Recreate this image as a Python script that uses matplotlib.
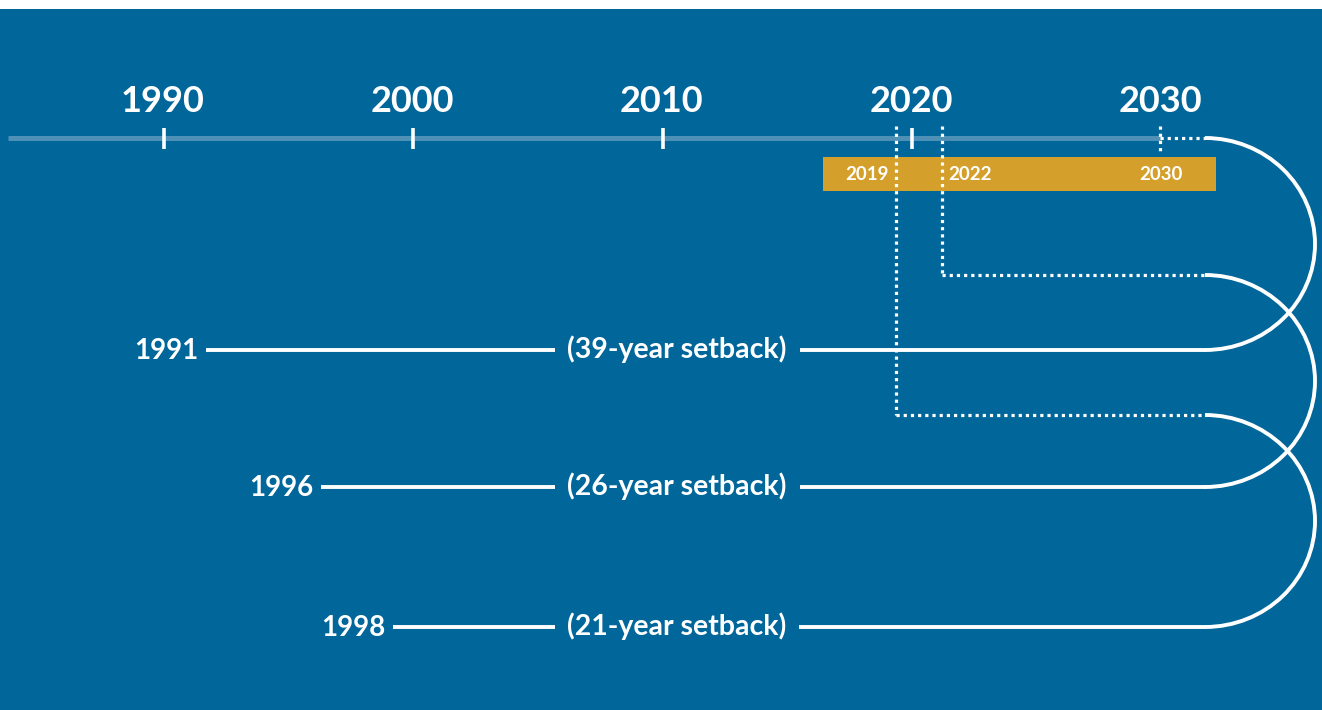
import numpy as np
import matplotlib
matplotlib.use("Agg")
import matplotlib.pyplot as plt
from matplotlib.patches import Rectangle, Arc

plt.rcParams['font.family'] = ['Lato', 'DejaVu Sans']

# ---- data ----
axis_years = [1990, 2000, 2010, 2020]
axis_end_year = 2030
start_years = [1991, 1996, 1998]
setbacks = [39, 26, 21]
target_years = [s + d for s, d in zip(start_years, setbacks)]   # 2030, 2022, 2019
band_labels = ["2019", "2022", "2030"]

# ---- layout / style ----
BG = "#01669A"
GOLD = "#D4A02B"
AXIS_C = "#4F90B6"
W, H = 1322, 710
X0, PX_PER_YEAR = 164, 24.93      # scale: year -> x pixel
def yx(year):
    return X0 + (year - 1990) * PX_PER_YEAR

axis_y = 138
row_y = [350, 487, 627]
row_line_start = [206, 321, 393]
text_cx = 677
curve_x = 1205
arc_rx = 110
vline_nudge = {2030: -1, 2022: -20, 2019: 9}   # visual nudge of dotted markers
join_y = [axis_y, 275, 415]

fig = plt.figure(figsize=(W / 100, H / 100), dpi=100, facecolor="white")
ax = fig.add_axes([0, 0, 1, 1])
ax.set_xlim(0, W)
ax.set_ylim(H, 0)
ax.axis("off")

ax.add_patch(Rectangle((0, 9), W, H - 9, facecolor=BG, edgecolor="none", zorder=0))

# timeline axis
ax.plot([8, yx(axis_end_year)], [axis_y, axis_y], color=AXIS_C, lw=3.6,
        solid_capstyle="butt", zorder=1)
for yr in axis_years:
    ax.plot([yx(yr), yx(yr)], [128, 149], color="white", lw=2.6,
            solid_capstyle="butt", zorder=3)
for yr in axis_years + [axis_end_year]:
    ax.text(yx(yr) - 1, 112, str(yr), color="white", fontsize=26, fontweight="bold",
            ha="center", va="baseline", zorder=3)

# gold band
ax.add_patch(Rectangle((823, 157), 1216 - 823, 34, facecolor=GOLD,
                       edgecolor="none", zorder=1))

dot_style = dict(color="white", lw=2.3, linestyle=(0, (1, 1.25)),
                 dash_capstyle="butt", zorder=4)

# dotted markers for target years, then arcs to the row lines
for i, ty in enumerate(target_years):
    vx = yx(ty) + vline_nudge[ty]
    hy = join_y[i]
    ax.plot([vx, vx], [126, 151 if i == 0 else hy], **dot_style)
    ax.plot([vx, curve_x], [hy, hy], **dot_style)
    yb = row_y[i]
    ry = (yb - hy) / 2
    ax.add_patch(Arc((curve_x, hy + ry), 2 * arc_rx, 2 * ry, theta1=-90, theta2=90,
                     color="white", lw=2.8, zorder=4))

# band labels
band_pos = [(867, "center"), (948, "left"), (1161, "center")]
for lab, (bx, ha) in zip(band_labels, band_pos):
    ax.text(bx, 180, lab, color="white", fontsize=13.5, fontweight="bold",
            ha=ha, va="baseline", zorder=3)

# rows
for i, (sy, d) in enumerate(zip(start_years, setbacks)):
    y = row_y[i]
    ax.plot([row_line_start[i], curve_x + 0.5], [y, y], color="white", lw=2.8,
            solid_capstyle="butt", zorder=3)
    ax.text(row_line_start[i] - 8, y + 9, str(sy), color="white", fontsize=20,
            fontweight="bold", ha="right", va="baseline", zorder=5)
    ax.text(text_cx, y + 8, f"({d}-year setback)", color="white", fontsize=20.5,
            fontweight="bold", ha="center", va="baseline", zorder=5,
            bbox=dict(boxstyle="square,pad=0.45", facecolor=BG, edgecolor="none"))

fig.savefig("out.png", dpi=100, facecolor=fig.get_facecolor())
